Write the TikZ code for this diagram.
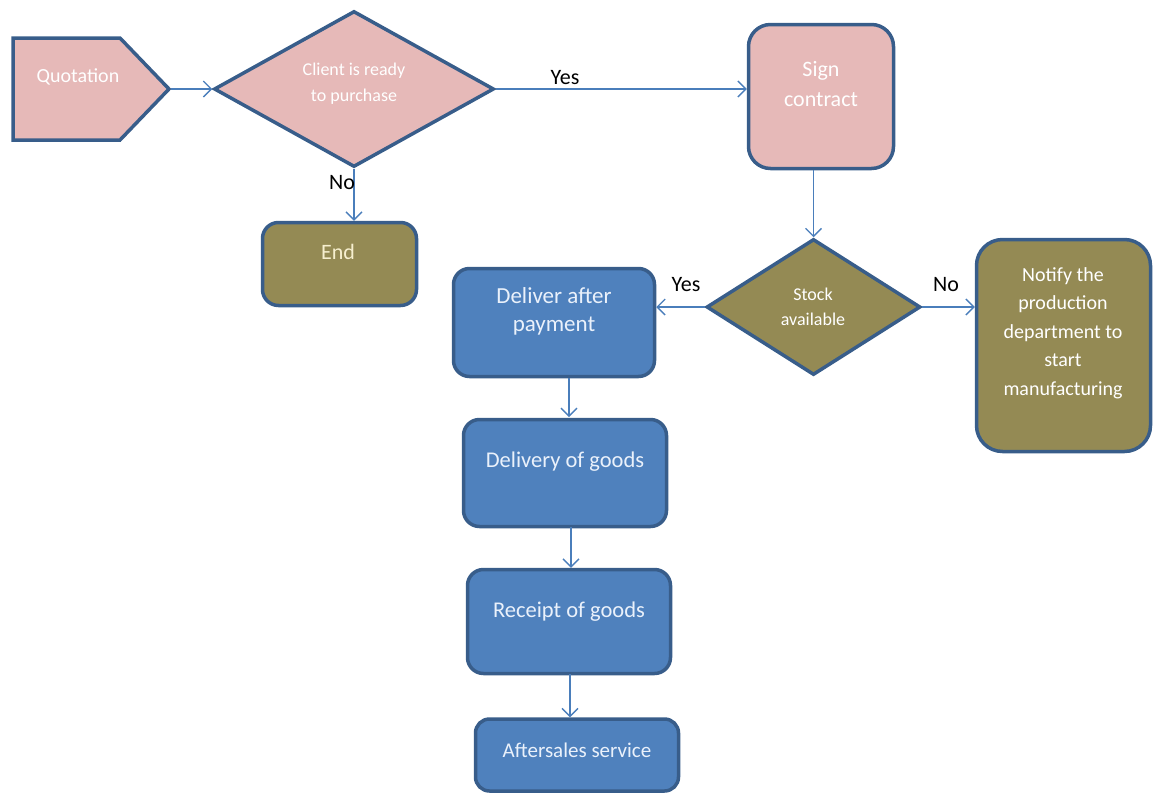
\documentclass[tikz,border=0pt]{standalone}
\usepackage{fontspec}
\setmainfont{Carlito}
\usetikzlibrary{arrows.meta,shapes.geometric}
\definecolor{pinkfill}{HTML}{E6B9B8}
\definecolor{olivefill}{HTML}{948A54}
\definecolor{bluefill}{HTML}{4F81BD}
\definecolor{border}{HTML}{385D8A}
\definecolor{arrowc}{HTML}{4A7EBB}
\definecolor{bluetext}{HTML}{EAF1FB}
\definecolor{endtext}{HTML}{F6EFCF}
\tikzset{
  shapebox/.style={draw=border, line width=3.5pt, rounded corners=22pt, inner sep=0pt},
  pinkbox/.style={shapebox, fill=pinkfill},
  olivebox/.style={shapebox, fill=olivefill},
  bluebox/.style={shapebox, fill=bluefill},
  decision/.style={diamond, draw=border, line width=3.5pt, inner sep=0pt},
  flow/.style={draw=arrowc, line width=1.3pt, -{Straight Barb[length=8pt,width=16pt,line width=1.3pt]}},
  lbl/.style={text=black, font=\fontsize{22}{24}\selectfont, inner sep=0pt},
  wt/.style={align=center, inner sep=0pt}
}
\begin{document}
\begin{tikzpicture}[x=1pt,y=-1pt]
\useasboundingbox (0,0) rectangle (1160,796);
% Quotation pentagon
\draw[draw=border, line width=3.5pt, fill=pinkfill, line join=miter]
  (13,38) -- (120,38) -- (169,89) -- (120,140) -- (13,140) -- cycle;
\coordinate (qtip) at (171,89);
\node[wt, text=white, font=\fontsize{20}{22}\selectfont] (qtxt) at (78,77) {Quotation};
% Decision 1
\node[decision, fill=pinkfill, minimum width=280pt, minimum height=156pt] (d1) at (354,89) {};
\node[wt, text=white, font=\fontsize{18}{26}\selectfont] (d1t) at (354,84) {Client is ready\\to purchase};
% Sign contract
\node[pinkbox, minimum width=145pt, minimum height=144pt] (sign) at (821,96.5) {};
\node[wt, text=white, font=\fontsize{22}{30}\selectfont] (signt) at (821,84) {Sign\\contract};
% End
\node[olivebox, minimum width=154pt, minimum height=83pt, rounded corners=16pt] (end) at (339.5,264) {};
\node[wt, text=endtext, font=\fontsize{22}{24}\selectfont] (endt) at (338,252) {End};
% Stock decision
\node[decision, fill=olivefill, minimum width=214pt, minimum height=136pt] (d2) at (813.5,307) {};
\node[wt, text=white, font=\fontsize{18}{25}\selectfont] (d2t) at (813,307) {Stock\\available};
% Notify
\node[olivebox, minimum width=174pt, minimum height=212pt, rounded corners=26pt] (notify) at (1063.5,345.5) {};
\node[wt, text=white, font=\fontsize{20}{28.5}\selectfont] (notifyt) at (1063,333) {Notify the\\production\\department to\\start\\manufacturing};
% Blue boxes
\node[bluebox, minimum width=201pt, minimum height=108pt, rounded corners=16pt] (deliver) at (554,322.5) {};
\node[wt, text=bluetext, font=\fontsize{23}{28}\selectfont] (delivert) at (554,311) {Deliver after\\payment};
\node[bluebox, minimum width=203pt, minimum height=107pt, rounded corners=16pt] (delivery) at (565,473) {};
\node[wt, text=bluetext, font=\fontsize{22.5}{24}\selectfont] (deliveryt) at (565,462) {Delivery of goods};
\node[bluebox, minimum width=203pt, minimum height=104pt, rounded corners=16pt] (receipt) at (569,621.5) {};
\node[wt, text=bluetext, font=\fontsize{22.5}{24}\selectfont] (receiptt) at (569,612) {Receipt of goods};
\node[bluebox, minimum width=203pt, minimum height=72pt, rounded corners=14pt] (after) at (577,755) {};
\node[wt, text=bluetext, font=\fontsize{21}{24}\selectfont] (aftert) at (577,750) {Aftersales service};
% Connectors
\draw[flow] (qtip) -- (qtip -| d1.west);
\draw[flow] (d1.east) -- (d1.east -| sign.west);
\node[lbl] (yes1) at (565,78) {Yes};
\draw[flow] (d1.south) -- (d1.south |- end.north);
\node[lbl] (no1) at (342,183) {No};
\draw[flow] (d2.north |- sign.south) -- (d2.north);
\draw[flow] (d2.west) -- (d2.west -| deliver.east);
\node[lbl] (yes2) at (686,285) {Yes};
\draw[flow] (d2.east) -- (d2.east -| notify.west);
\node[lbl] (no2) at (946,285) {No};
\draw[flow] (deliver.south -| 569,0) -- (569,417);
\draw[flow] (571,527) -- (receipt.north -| 571,0);
\draw[flow] (570,674) -- (after.north -| 570,0);
\end{tikzpicture}
\end{document}
